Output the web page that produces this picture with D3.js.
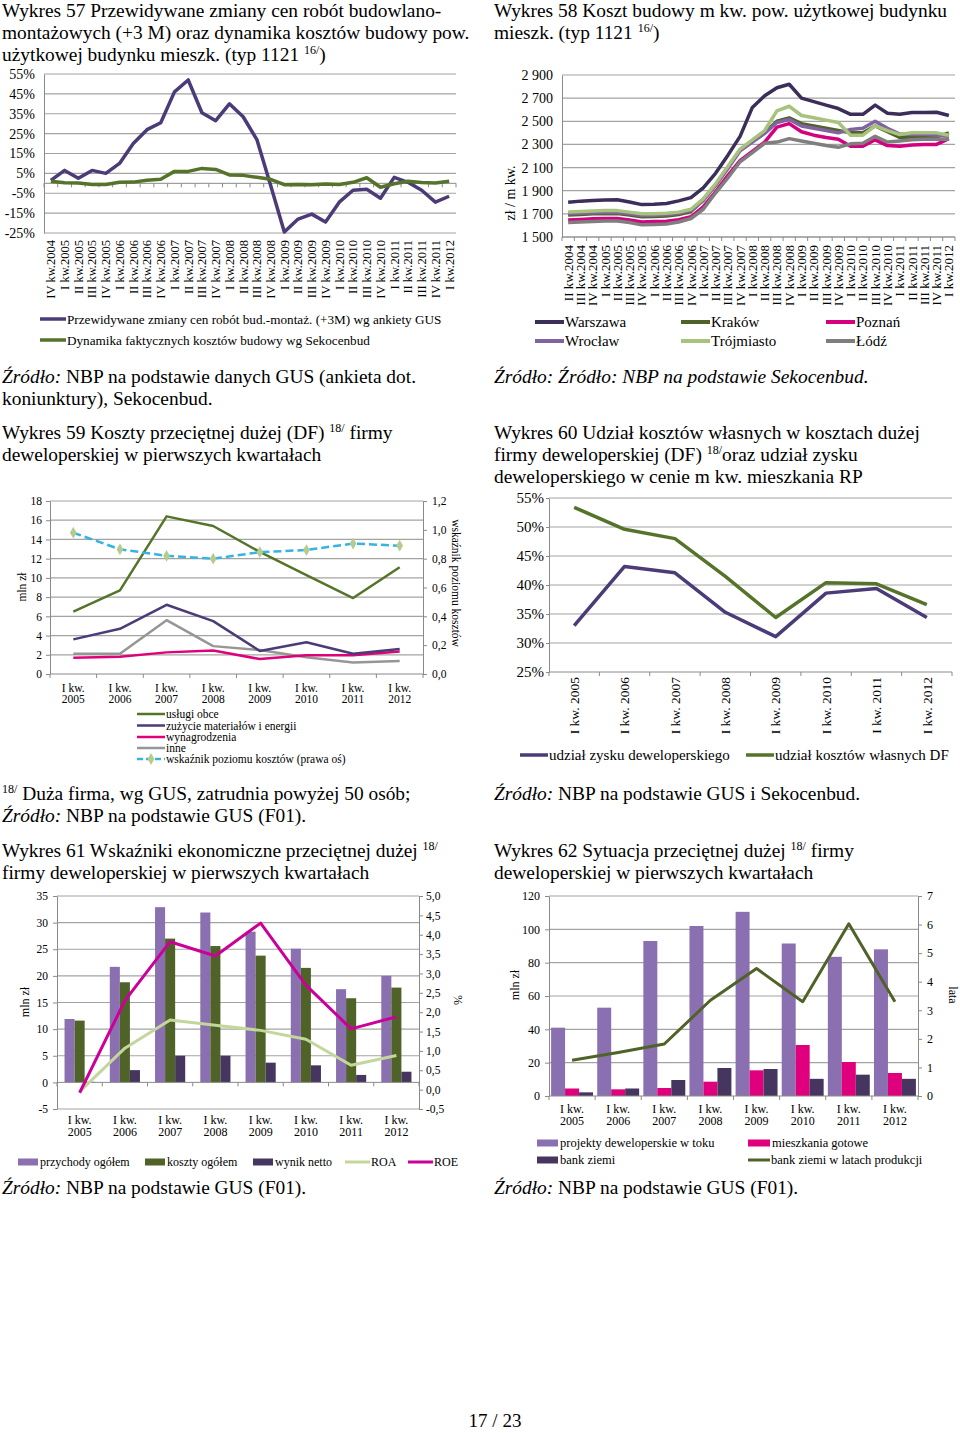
<!DOCTYPE html>
<html><head><meta charset="utf-8">
<script src="https://cdn.jsdelivr.net/npm/d3@7"></script>
<style>body{margin:0;background:#fff}</style></head>
<body><script>
// ---------------- DATA ----------------
const cats57 = ["IV kw.2004","I kw.2005","II kw.2005","III kw.2005","IV kw.2005","I kw.2006","II kw.2006","III kw.2006","IV kw.2006","I kw.2007","II kw.2007","III kw.2007","IV kw.2007","I kw.2008","II kw.2008","III kw.2008","IV kw.2008","I kw.2009","II kw.2009","III kw.2009","IV kw.2009","I kw.2010","II kw.2010","III kw.2010","IV kw.2010","I kw.2011","II kw.2011","III kw.2011","IV kw.2011","I kw.2012"];
const prices57 = [1.5,6.5,2.5,6.5,5,10,20,27,30.5,46,52,35.5,31.5,40,33.5,22,-1,-24.5,-18,-15.5,-19.5,-9.5,-3.5,-3,-7.5,3,0.5,-3.5,-9.5,-6.5];
const costs57 = [1,0.3,0.1,-0.6,-0.6,0.5,0.6,1.5,2,6,6,7.5,7,4.2,4,3,2,-0.7,-0.6,-0.7,-0.3,-0.6,0.5,2.8,-2,-0.2,1,0.4,0.2,1];
const ticks57 = [55,45,35,25,15,5,-5,-15,-25];

const cats58 = ["II kw.2004","III kw.2004","IV kw.2004","I kw.2005","II kw.2005","III kw.2005","IV kw.2005","I kw.2006","II kw.2006","III kw.2006","IV kw.2006","I kw.2007","II kw.2007","III kw.2007","IV kw.2007","I kw.2008","II kw.2008","III kw.2008","IV kw.2008","I kw.2009","II kw.2009","III kw.2009","IV kw.2009","I kw.2010","II kw.2010","III kw.2010","IV kw.2010","I kw.2011","II kw.2011","III kw.2011","IV kw.2011","I kw.2012"];
const warszawa = [1800,1810,1815,1820,1822,1803,1780,1783,1790,1812,1840,1925,2050,2205,2370,2620,2720,2790,2820,2700,2670,2640,2610,2560,2560,2640,2570,2560,2575,2575,2578,2550];
const krakow = [1690,1695,1700,1702,1702,1690,1675,1678,1682,1695,1720,1820,1950,2100,2250,2330,2400,2500,2530,2480,2460,2440,2420,2400,2400,2460,2410,2360,2365,2365,2365,2400];
const poznan = [1648,1652,1657,1660,1660,1648,1630,1633,1637,1650,1675,1760,1890,2030,2160,2240,2320,2450,2480,2410,2380,2360,2345,2285,2285,2340,2290,2285,2295,2300,2300,2350];
const wroclaw = [1700,1705,1710,1712,1712,1700,1685,1688,1692,1705,1730,1815,1945,2090,2245,2320,2395,2490,2515,2460,2440,2420,2400,2430,2440,2500,2440,2390,2385,2385,2380,2370];
const trojmiasto = [1715,1720,1725,1728,1728,1715,1700,1700,1705,1715,1740,1830,1960,2110,2260,2340,2420,2590,2630,2550,2530,2510,2490,2380,2380,2460,2420,2385,2400,2400,2400,2380];
const lodz = [1625,1630,1635,1638,1638,1625,1605,1608,1612,1630,1660,1740,1880,2010,2150,2230,2310,2320,2350,2330,2310,2290,2275,2305,2310,2370,2320,2330,2340,2345,2345,2345];
const ticks58 = [1500,1700,1900,2100,2300,2500,2700,2900];

const years = ["2005","2006","2007","2008","2009","2010","2011","2012"];

const uslugiObce = [6.5,8.7,16.4,15.4,12.7,10.3,7.9,11.1];
const zuzycie = [3.6,4.7,7.2,5.5,2.4,3.3,2.1,2.6];
const wynagrodzenia = [1.7,1.8,2.25,2.45,1.55,1.95,1.95,2.35];
const inne = [2.1,2.1,5.6,2.9,2.5,1.75,1.2,1.35];
const wskaznik = [0.98,0.865,0.82,0.80,0.845,0.86,0.905,0.89];
const ticks59L = [0,2,4,6,8,10,12,14,16,18];
const ticks59R = [0,0.2,0.4,0.6,0.8,1.0,1.2];

const kosztyWlasne60 = [53.4,49.6,48,41.5,34.4,40.4,40.2,36.6];
const zysk60 = [33,43.2,42.1,35.3,31.1,38.6,39.4,34.4];
const ticks60 = [25,30,35,40,45,50,55];

const przychody61 = [11.9,21.7,32.9,31.9,28.3,25.1,17.5,20];
const koszty61 = [11.6,18.8,27,25.6,23.8,21.5,15.8,17.8];
const wynik61 = [0.1,2.3,5,5,3.7,3.2,1.4,2];
const roa61 = [-0.05,1.07,1.8,1.66,1.53,1.3,0.63,0.88];
const roe61 = [-0.08,2.3,3.82,3.45,4.3,2.7,1.57,1.88];
const ticks61L = [-5,0,5,10,15,20,25,30,35];
const ticks61R = [-0.5,0,0.5,1,1.5,2,2.5,3,3.5,4,4.5,5];

const projekty62 = [41,53,93,102,110.5,91.5,83.5,88];
const mieszkania62 = [4.5,4,4.8,8.6,15.4,30.6,20.4,13.8];
const bankZiemi62 = [2.2,4.5,9.6,16.8,16.2,10.3,12.8,10.3];
const bankLata62 = [1.25,1.52,1.82,3.35,4.46,3.3,6.03,3.3];
const ticks62L = [0,20,40,60,80,100,120];
const ticks62R = [0,1,2,3,4,5,6,7];

// ---------------- HELPERS ----------------
const FONT = "'Liberation Serif','Times New Roman',serif";
const GRID = "#a3a3a3", AXIS = "#8a8a8a";
const C = {
  purple:"#4b3b78", green:"#55742a", dark:"#3b2e58", olive:"#4f6228", magenta:"#d4007f",
  lavender:"#8064a2", light:"#a7c37c", gray:"#7f7f7f", blue:"#35b3e3", diamond:"#b5cc8e",
  roa:"#c3d69b", roe:"#cc0099", bar1:"#8a70b0", barDark:"#46365f", barMag:"#e0007e"
};
const svg = d3.select("body").append("svg").attr("width",960).attr("height",1433).style("display","block");
svg.append("rect").attr("width",960).attr("height",1433).attr("fill","#fff");

const fmtInt = d => String(d);
const fmtPL1 = d => d.toFixed(1).replace(".", ",");
const fmtThousand = d => Math.floor(d/1000) + " " + String(d % 1000).padStart(3, "0");

function para(x, y, segs, size = 19.4) {
  const t = svg.append("text").attr("x", x).attr("y", y).attr("font-family", FONT)
    .attr("font-size", size).attr("fill", "#000");
  let shift = 0;
  segs.forEach(s => {
    const sp = t.append("tspan");
    let dy = 0;
    if (typeof s === "string") { sp.text(s); dy = -shift; shift = 0; }
    else if (s.i !== undefined) { sp.attr("font-style", "italic").text(s.i); dy = -shift; shift = 0; }
    else if (s.sup !== undefined) { sp.attr("font-size", 12).text(s.sup); dy = -7 - shift; shift = -7; }
    if (dy) sp.attr("dy", dy);
  });
  return t;
}
function styleAxis(g, size) {
  g.attr("font-family", FONT).attr("font-size", size);
  g.select(".domain").attr("stroke", AXIS);
  g.selectAll(".tick line").attr("stroke", AXIS);
  g.selectAll(".tick text").attr("fill", "#000");
}
function grid(g, y, ticks, x0, x1) {
  g.append("g").selectAll("line").data(ticks).join("line")
    .attr("x1", x0).attr("x2", x1).attr("y1", d => y(d)).attr("y2", d => y(d))
    .attr("stroke", GRID).attr("stroke-width", 1.2);
}
function bandTicks(g, x, y0, len) {
  const pos = x.domain().map(d => x(d)).concat([x.range()[1]]);
  g.append("g").selectAll("line").data(pos).join("line")
    .attr("x1", d => d).attr("x2", d => d).attr("y1", y0).attr("y2", y0 + len).attr("stroke", AXIS);
  g.append("line").attr("x1", x.range()[0]).attr("x2", x.range()[1]).attr("y1", y0).attr("y2", y0).attr("stroke", AXIS);
}
function rotLabels(g, x, cats, yTop, size) {
  g.append("g").selectAll("text").data(cats).join("text")
    .attr("transform", d => `translate(${x(d) + x.bandwidth()/2},${yTop}) rotate(-90)`)
    .attr("dy", "0.35em").attr("text-anchor", "end")
    .attr("font-family", FONT).attr("font-size", size).attr("fill", "#000").text(d => d);
}
function twoLineLabels(g, x, cats, y1, y2, size) {
  const gg = g.append("g").attr("font-family", FONT).attr("font-size", size).attr("fill", "#000").attr("text-anchor", "middle");
  gg.selectAll(".l1").data(cats).join("text").attr("class","l1").attr("x", d => x(d) + x.bandwidth()/2).attr("y", y1).text("I kw.");
  gg.selectAll(".l2").data(cats).join("text").attr("class","l2").attr("x", d => x(d) + x.bandwidth()/2).attr("y", y2).text(d => d);
}
function drawLine(g, x, cats, y, vals, color, width, dash) {
  const line = d3.line().x((d, i) => x(cats[i]) + x.bandwidth()/2).y(d => y(d));
  const p = g.append("path").datum(vals).attr("d", line).attr("fill", "none")
    .attr("stroke", color).attr("stroke-width", width).attr("stroke-linejoin", "round");
  if (dash) p.attr("stroke-dasharray", dash);
  return p;
}
function vTitle(g, x, y, text, size, rot) {
  g.append("text").attr("transform", `translate(${x},${y}) rotate(${rot})`)
    .attr("text-anchor", "middle").attr("dominant-baseline", "central")
    .attr("font-family", FONT).attr("font-size", size).attr("fill", "#000").text(text);
}
function legLine(g, x0, x1, y, color, width, text, size, dash) {
  const l = g.append("line").attr("x1", x0).attr("x2", x1).attr("y1", y).attr("y2", y)
    .attr("stroke", color).attr("stroke-width", width);
  if (dash) l.attr("stroke-dasharray", dash);
  g.append("text").attr("x", x1 + 1).attr("y", y).attr("dominant-baseline", "central")
    .attr("font-family", FONT).attr("font-size", size).attr("fill", "#000").text(text);
}
function legRect(g, x0, w, y, color, text, size) {
  g.append("rect").attr("x", x0).attr("y", y - 3.5).attr("width", w).attr("height", 7).attr("fill", color);
  g.append("text").attr("x", x0 + w + 2).attr("y", y).attr("dominant-baseline", "central")
    .attr("font-family", FONT).attr("font-size", size).attr("fill", "#000").text(text);
}

// ---------------- TEXT ----------------
para(2, 17, ["Wykres 57 Przewidywane zmiany cen robót budowlano-"]);
para(2, 39, ["montażowych (+3 M) oraz dynamika kosztów budowy pow."]);
para(2, 61, ["użytkowej budynku mieszk. (typ 1121 ", {sup:"16/"}, ")"]);
para(494, 17, ["Wykres 58 Koszt budowy m kw. pow. użytkowej budynku"]);
para(494, 39, ["mieszk. (typ 1121 ", {sup:"16/"}, ")"]);
para(2, 383, [{i:"Źródło:"}, " NBP na podstawie danych GUS (ankieta dot."]);
para(2, 405, ["koniunktury), Sekocenbud."]);
para(494, 383, [{i:"Źródło: Źródło: NBP na podstawie Sekocenbud."}]);
para(2, 439, ["Wykres 59 Koszty przeciętnej dużej (DF) ", {sup:"18/"}, " firmy"]);
para(2, 461, ["deweloperskiej w pierwszych kwartałach"]);
para(494, 439, ["Wykres 60 Udział kosztów własnych w kosztach dużej"]);
para(494, 461, ["firmy deweloperskiej (DF) ", {sup:"18/"}, "oraz udział zysku"]);
para(494, 483, ["deweloperskiego w cenie m kw. mieszkania RP"]);
para(2, 800, [{sup:"18/"}, " Duża firma, wg GUS, zatrudnia powyżej 50 osób;"]);
para(2, 822, [{i:"Źródło:"}, " NBP na podstawie GUS (F01)."]);
para(494, 800, [{i:"Źródło:"}, " NBP na podstawie GUS i Sekocenbud."]);
para(2, 857, ["Wykres 61 Wskaźniki ekonomiczne przeciętnej dużej ", {sup:"18/"}]);
para(2, 879, ["firmy deweloperskiej w pierwszych kwartałach"]);
para(494, 857, ["Wykres 62 Sytuacja przeciętnej dużej ", {sup:"18/"}, " firmy"]);
para(494, 879, ["deweloperskiej w pierwszych kwartałach"]);
para(2, 1194, [{i:"Źródło:"}, " NBP na podstawie GUS (F01)."]);
para(494, 1194, [{i:"Źródło:"}, " NBP na podstawie GUS (F01)."]);
svg.append("text").attr("x", 495).attr("y", 1427).attr("text-anchor", "middle")
  .attr("font-family", FONT).attr("font-size", 19).text("17 / 23");

// ---------------- CHART 57 ----------------
{
  const g = svg.append("g");
  const x = d3.scaleBand().domain(cats57).range([44, 456]);
  const y = d3.scaleLinear().domain([-25, 55]).range([233, 74]);
  grid(g, y, ticks57, 44, 456);
  g.append("g").attr("transform", "translate(44,0)")
    .call(d3.axisLeft(y).tickValues(ticks57).tickFormat(d => d + "%").tickSizeInner(0).tickSizeOuter(0).tickPadding(9))
    .call(styleAxis, 14);
  bandTicks(g, x, y(0), 4);
  rotLabels(g, x, cats57, 240, 12.5);
  drawLine(g, x, cats57, y, prices57, C.purple, 3.5);
  drawLine(g, x, cats57, y, costs57, C.green, 3.5);
  legLine(g, 40, 66, 319, C.purple, 3.5, "Przewidywane zmiany cen robót bud.-montaż. (+3M) wg ankiety GUS", 13.2);
  legLine(g, 40, 66, 340, C.green, 3.5, "Dynamika faktycznych kosztów budowy wg Sekocenbud", 13.2);
}

// ---------------- CHART 58 ----------------
{
  const g = svg.append("g");
  const x = d3.scaleBand().domain(cats58).range([562, 955]);
  const y = d3.scaleLinear().domain([1500, 2900]).range([237, 75]);
  grid(g, y, ticks58, 562, 955);
  g.append("g").attr("transform", "translate(562,0)")
    .call(d3.axisLeft(y).tickValues(ticks58).tickFormat(fmtThousand).tickSizeInner(0).tickSizeOuter(0).tickPadding(9))
    .call(styleAxis, 14);
  bandTicks(g, x, y(1500), 4);
  rotLabels(g, x, cats58, 245, 13);
  vTitle(g, 510, 193, "zł / m kw.", 14, -90);
  const series = [
    [warszawa, C.dark, "Warszawa"], [krakow, C.olive, "Kraków"], [poznan, C.magenta, "Poznań"],
    [wroclaw, C.lavender, "Wrocław"], [trojmiasto, C.light, "Trójmiasto"], [lodz, C.gray, "Łódź"]
  ];
  series.forEach(s => drawLine(g, x, cats58, y, s[0], s[1], 3.5));
  const lx = [535, 681, 826];
  series.forEach((s, i) => legLine(g, lx[i % 3], lx[i % 3] + 29, i < 3 ? 322 : 341, s[1], 4, s[2], 15));
}

// ---------------- CHART 59 ----------------
{
  const g = svg.append("g");
  const x = d3.scaleBand().domain(years).range([50, 423]);
  const yL = d3.scaleLinear().domain([0, 18]).range([674, 501]);
  const yR = d3.scaleLinear().domain([0, 1.2]).range([674, 501]);
  grid(g, yL, ticks59L.slice(1), 50, 423);
  g.append("g").attr("transform", "translate(50,0)")
    .call(d3.axisLeft(yL).tickValues(ticks59L).tickFormat(fmtInt).tickSizeInner(4).tickSizeOuter(0).tickPadding(4))
    .call(styleAxis, 11.5);
  g.append("g").attr("transform", "translate(423,0)")
    .call(d3.axisRight(yR).tickValues(ticks59R).tickFormat(fmtPL1).tickSizeInner(4).tickSizeOuter(0).tickPadding(5))
    .call(styleAxis, 11.5);
  bandTicks(g, x, yL(0), 4);
  twoLineLabels(g, x, years, 692, 703, 11.5);
  vTitle(g, 22, 587, "mln zł", 11.5, -90);
  vTitle(g, 456, 583, "wskaźnik poziomu kosztów", 11.5, 90);
  drawLine(g, x, years, yL, inne, "#969696", 2.5);
  drawLine(g, x, years, yL, wynagrodzenia, "#e0007a", 2.5);
  drawLine(g, x, years, yL, zuzycie, C.purple, 2.5);
  drawLine(g, x, years, yL, uslugiObce, C.green, 2.5);
  drawLine(g, x, years, yR, wskaznik, C.blue, 2.5, "8,4");
  const sym = d3.symbol().type(d3.symbolDiamond).size(40);
  g.append("g").selectAll("path").data(wskaznik).join("path")
    .attr("transform", (d, i) => `translate(${x(years[i]) + x.bandwidth()/2},${yR(d)})`)
    .attr("d", sym).attr("fill", C.diamond);
  const L = [[C.green, "usługi obce"], [C.purple, "zużycie materiałów i energii"], ["#e0007a", "wynagrodzenia"], ["#969696", "inne"]];
  const ly = [714, 725.5, 737, 748, 759];
  L.forEach((l, i) => legLine(g, 137, 165, ly[i], l[0], 2.5, l[1], 11.5));
  legLine(g, 137, 165, ly[4], C.blue, 2.5, "wskaźnik poziomu kosztów (prawa oś)", 11.5, "6,3");
  g.append("path").attr("transform", `translate(151,${ly[4]})`).attr("d", sym).attr("fill", C.diamond);
}

// ---------------- CHART 60 ----------------
{
  const g = svg.append("g");
  const x = d3.scaleBand().domain(years).range([549, 952]);
  const y = d3.scaleLinear().domain([25, 55]).range([672, 498]);
  const cats = years.map(d => "I kw. " + d);
  const xc = d3.scaleBand().domain(cats).range([549, 952]);
  grid(g, y, ticks60.slice(1), 549, 952);
  g.append("g").attr("transform", "translate(549,0)")
    .call(d3.axisLeft(y).tickValues(ticks60).tickFormat(d => d + "%").tickSizeInner(3).tickSizeOuter(0).tickPadding(2))
    .call(styleAxis, 15);
  bandTicks(g, xc, y(25), 4);
  rotLabels(g, xc, cats, 677, 13.5);
  drawLine(g, x, years, y, zysk60, C.purple, 3.5);
  drawLine(g, x, years, y, kosztyWlasne60, C.green, 3.5);
  legLine(g, 520, 548, 755, C.purple, 3.5, "udział zysku deweloperskiego", 15);
  legLine(g, 746, 774, 755, C.green, 3.5, "udział kosztów własnych DF", 15);
}

// ---------------- CHART 61 ----------------
{
  const g = svg.append("g");
  const x = d3.scaleBand().domain(years).range([57, 419]);
  const yL = d3.scaleLinear().domain([-5, 35]).range([1109, 896]);
  const yR = d3.scaleLinear().domain([-0.5, 5]).range([1109, 896]);
  grid(g, yL, ticks61L.filter(d => d !== 0), 57, 419);
  g.append("g").attr("transform", "translate(57,0)")
    .call(d3.axisLeft(yL).tickValues(ticks61L).tickFormat(fmtInt).tickSizeInner(4).tickSizeOuter(0).tickPadding(5))
    .call(styleAxis, 11.5);
  g.append("g").attr("transform", "translate(419,0)")
    .call(d3.axisRight(yR).tickValues(ticks61R).tickFormat(fmtPL1).tickSizeInner(4).tickSizeOuter(0).tickPadding(3))
    .call(styleAxis, 11.5);
  const keys = ["p", "k", "w"];
  const xs = d3.scaleBand().domain(keys).range([0, x.bandwidth()]).paddingInner(0).paddingOuter(0.75);
  const colors = {p: C.bar1, k: C.olive, w: C.barDark};
  const vals = {p: przychody61, k: koszty61, w: wynik61};
  const bars = years.flatMap((c, i) => keys.map(k => ({c, k, v: vals[k][i]})));
  g.append("g").selectAll("rect").data(bars).join("rect")
    .attr("x", d => x(d.c) + xs(d.k)).attr("width", xs.bandwidth())
    .attr("y", d => Math.min(yL(d.v), yL(0))).attr("height", d => Math.abs(yL(d.v) - yL(0)))
    .attr("fill", d => colors[d.k]);
  bandTicks(g, x, yL(0), 4);
  twoLineLabels(g, x, years, 1124, 1136, 12);
  vTitle(g, 25, 1002, "mln zł", 12, -90);
  vTitle(g, 458, 1000, "%", 12, 90);
  drawLine(g, x, years, yR, roa61, C.roa, 3);
  drawLine(g, x, years, yR, roe61, C.roe, 3);
  legRect(g, 18, 20, 1162, C.bar1, "przychody ogółem", 12);
  legRect(g, 145, 20, 1162, C.olive, "koszty ogółem", 12);
  legRect(g, 253, 20, 1162, C.barDark, "wynik netto", 12);
  legLine(g, 345, 370, 1162, C.roa, 3, "ROA", 12);
  legLine(g, 408, 433, 1162, C.roe, 3, "ROE", 12);
}

// ---------------- CHART 62 ----------------
{
  const g = svg.append("g");
  const x = d3.scaleBand().domain(years).range([549, 918]);
  const yL = d3.scaleLinear().domain([0, 120]).range([1096, 896]);
  const yR = d3.scaleLinear().domain([0, 7]).range([1096, 896]);
  grid(g, yL, ticks62L.slice(1), 549, 918);
  g.append("g").attr("transform", "translate(549,0)")
    .call(d3.axisLeft(yL).tickValues(ticks62L).tickFormat(fmtInt).tickSizeInner(4).tickSizeOuter(0).tickPadding(5))
    .call(styleAxis, 12);
  g.append("g").attr("transform", "translate(918,0)")
    .call(d3.axisRight(yR).tickValues(ticks62R).tickFormat(fmtInt).tickSizeInner(4).tickSizeOuter(0).tickPadding(5))
    .call(styleAxis, 12);
  const keys = ["p", "m", "b"];
  const xs = d3.scaleBand().domain(keys).range([0, x.bandwidth()]).paddingInner(0).paddingOuter(0.15);
  const colors = {p: C.bar1, m: C.barMag, b: C.barDark};
  const vals = {p: projekty62, m: mieszkania62, b: bankZiemi62};
  const bars = years.flatMap((c, i) => keys.map(k => ({c, k, v: vals[k][i]})));
  g.append("g").selectAll("rect").data(bars).join("rect")
    .attr("x", d => x(d.c) + xs(d.k)).attr("width", xs.bandwidth())
    .attr("y", d => yL(d.v)).attr("height", d => yL(0) - yL(d.v))
    .attr("fill", d => colors[d.k]);
  bandTicks(g, x, yL(0), 4);
  twoLineLabels(g, x, years, 1113, 1125, 12);
  vTitle(g, 515, 985, "mln zł", 12, -90);
  vTitle(g, 953, 995, "lata", 12, 90);
  drawLine(g, x, years, yR, bankLata62, C.olive, 3);
  legRect(g, 537, 21, 1143, C.bar1, "projekty deweloperskie w toku", 12.5);
  legRect(g, 748, 22, 1143, C.barMag, "mieszkania gotowe", 12.5);
  legRect(g, 537, 21, 1160, C.barDark, "bank ziemi", 12.5);
  legLine(g, 748, 770, 1160, C.olive, 3, "bank ziemi w latach produkcji", 12.5);
}
</script></body></html>
